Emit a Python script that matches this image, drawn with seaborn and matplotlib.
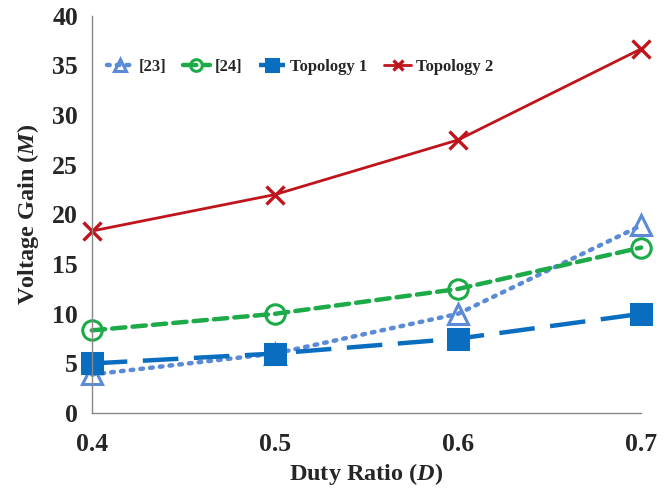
import matplotlib.pyplot as plt
import pandas as pd
import seaborn as sns

duty = [0.4, 0.5, 0.6, 0.7]
gain_23 = [3.89, 6.0, 10.0, 18.89]
gain_24 = [8.33, 10.0, 12.5, 16.67]
gain_top1 = [5.0, 6.0, 7.5, 10.0]
gain_top2 = [18.33, 22.0, 27.5, 36.67]
names = ['[23]', '[24]', 'Topology 1', 'Topology 2']
y_ticks = [0, 5, 10, 15, 20, 25, 30, 35, 40]

sns.set_theme(style='white')
plt.rcParams['font.family'] = ['Liberation Serif', 'DejaVu Serif']
plt.rcParams['font.weight'] = 'bold'
plt.rcParams['mathtext.fontset'] = 'custom'
plt.rcParams['mathtext.it'] = 'Liberation Serif:italic:bold'
plt.rcParams['mathtext.rm'] = 'Liberation Serif:bold'

fig = plt.figure(figsize=(6.7, 4.93), dpi=100)
ax = fig.add_axes([0.137, 0.162, 0.820, 0.806])

series = [
    (gain_23, '#5B8BD6', (0, (0.6, 1.6)), '^', 'none', 3.2),
    (gain_24, '#1DAA48', (0, (3.0, 1.6)), 'o', 'none', 3.2),
    (gain_top1, '#0A6EC0', (0, (8, 3.5)), 's', '#0A6EC0', 3.2),
    (gain_top2, '#C0141C', '-', 'x', '#C0141C', 2.0),
]

for (vals, col, ls, mk, mfc, lw), name in zip(series, names):
    df = pd.DataFrame({'D': duty, 'M': vals})
    sns.lineplot(data=df, x='D', y='M', ax=ax, color=col, linestyle=ls,
                 linewidth=lw, marker=mk, markersize=14 if mk != 'x' else 13,
                 markerfacecolor=mfc, markeredgecolor=col,
                 markeredgewidth=2.2 if mk != 'x' else 2.4,
                 label=name, clip_on=False)
    if mk in ('o', '^'):
        ax.lines[-1].set_dash_capstyle('round')

ax.set_xlim(0.4, 0.7)
ax.set_ylim(0, 40)
ax.set_xticks(duty)
ax.set_xticklabels(['0.4', '0.5', '0.6', '0.7'])
ax.set_yticks(y_ticks)

for s in ['top', 'right']:
    ax.spines[s].set_visible(False)
for s in ['left', 'bottom']:
    ax.spines[s].set_color('#888888')
    ax.spines[s].set_linewidth(1.0)

ax.tick_params(axis='both', which='major', direction='out', length=5,
               color='#888888', labelsize=18.5, width=1.0)
ax.tick_params(axis='x', pad=9)
ax.tick_params(axis='y', pad=5)
for lab in ax.get_xticklabels() + ax.get_yticklabels():
    lab.set_fontweight('bold')

ax.set_xlabel('Duty Ratio ($\\mathit{D}$)', fontsize=17.5, fontweight='bold', labelpad=4)
ax.set_ylabel('Voltage Gain ($\\mathit{M}$)', fontsize=17.5, fontweight='bold', labelpad=8)

leg = ax.legend(loc='upper left', bbox_to_anchor=(0.0, 0.93), ncol=4, frameon=False,
                prop={'weight': 'bold', 'size': 12}, handlelength=1.6,
                handletextpad=0.3, columnspacing=1.0, markerscale=0.6)

fig.savefig('out.png', dpi=100)
